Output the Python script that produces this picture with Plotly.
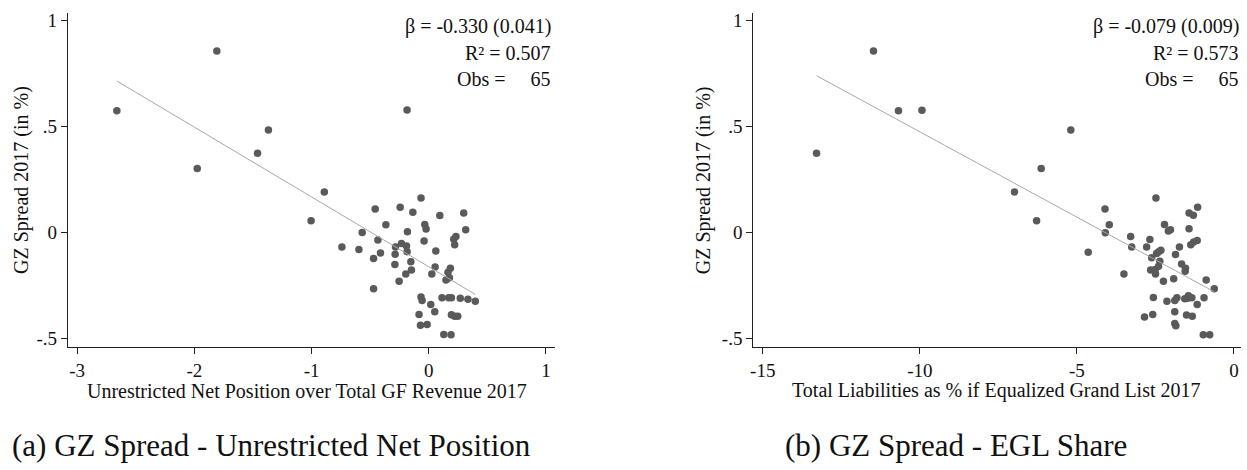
import numpy as np
import plotly.graph_objects as go

# ---------------- data ----------------
# Panel (a): Unrestricted Net Position over Total GF Revenue 2017 vs GZ spread
unp_x = [-1.808, -2.661, -0.185, -1.368, -1.461, -1.975, -0.891, -0.066,
         -1.004, -0.457, -0.244, -0.136, 0.094, 0.298, 0.315, -0.366,
         -0.568, -0.182, -0.034, -0.023, -0.434, -0.040, 0.213, 0.232,
         0.221, -0.741, -0.596, -0.412, -0.471, -0.284, -0.233, -0.190,
         -0.185, -0.287, 0.060, -0.153, -0.289, -0.148, -0.196, -0.253,
         0.054, 0.026, 0.184, 0.164, 0.176, 0.147, -0.471, -0.066,
         -0.057, 0.113, 0.170, 0.193, 0.269, 0.334, 0.397, 0.017,
         0.051, -0.083, 0.193, 0.221, 0.247, -0.071, -0.014, 0.128, 0.190]
unp_y = [0.857, 0.575, 0.578, 0.484, 0.374, 0.302, 0.191, 0.163,
         0.055, 0.111, 0.119, 0.095, 0.080, 0.092, 0.013, 0.036,
         0.000, 0.003, 0.037, 0.016, -0.036, -0.041, -0.033, -0.019,
         -0.058, -0.069, -0.081, -0.097, -0.123, -0.069, -0.052, -0.064,
         -0.091, -0.103, -0.088, -0.139, -0.152, -0.178, -0.197, -0.231,
         -0.164, -0.197, -0.170, -0.188, -0.214, -0.225, -0.267, -0.306,
         -0.322, -0.309, -0.309, -0.309, -0.311, -0.316, -0.325, -0.341,
         -0.375, -0.388, -0.389, -0.397, -0.397, -0.439, -0.435, -0.483, -0.484]

# Panel (b): Total Liabilities as % of Equalized Grand List 2017 vs GZ spread
egl_x = [-11.476, -13.289, -10.680, -9.932, -5.194, -6.136, -6.986, -2.483,
         -6.282, -4.105, -3.969, -4.095, -4.639, -3.289, -3.255, -3.503,
         -2.779, -2.677, -2.619, -2.463, -2.327, -2.395, -2.361, -2.653,
         -2.507, -2.497, -2.245, -2.211, -2.088, -2.020, -1.735, -1.861,
         -1.667, -1.544, -1.554, -1.918, -1.429, -1.429, -1.293, -1.156,
         -1.374, -1.282, -1.170, -0.884, -0.626, -2.565, -2.133, -1.884,
         -1.816, -1.565, -1.476, -1.340, -1.170, -0.952, -2.847, -2.585,
         -1.884, -1.510, -1.327, -1.884, -1.850, -0.976, -0.772, -2.400, -1.450]
egl_y = [0.857, 0.374, 0.575, 0.577, 0.484, 0.302, 0.191, 0.163,
         0.055, 0.111, 0.036, -0.002, -0.094, -0.019, -0.069, -0.197,
         -0.069, -0.034, -0.120, -0.100, -0.084, -0.092, -0.136, -0.178,
         -0.175, -0.197, -0.231, 0.037, 0.006, 0.013, -0.069, -0.105,
         -0.150, -0.170, -0.184, -0.219, 0.017, 0.092, 0.081, 0.119,
         -0.058, -0.045, -0.038, -0.225, -0.267, -0.308, -0.325, -0.322,
         -0.309, -0.314, -0.311, -0.309, -0.341, -0.309, -0.400, -0.388,
         -0.375, -0.391, -0.397, -0.431, -0.441, -0.484, -0.484, -0.160, -0.300]

stats_a = ["β = -0.330 (0.041)", "R² = 0.507", "Obs =\u00a0\u00a0\u00a0\u00a0\u00a065"]
stats_b = ["β = -0.079 (0.009)", "R² = 0.573", "Obs =\u00a0\u00a0\u00a0\u00a0\u00a065"]

xticks_a = [-3, -2, -1, 0, 1]
xticks_b = [-15, -10, -5, 0]
yticks = [-0.5, 0, 0.5, 1]
yticklabels = ["-.5", "0", ".5", "1"]

xtitle_a = "Unrestricted Net Position over Total GF Revenue 2017"
xtitle_b = "Total Liabilities as % if Equalized Grand List 2017"
ytitle = "GZ Spread 2017 (in %)"
caption_a = "(a) GZ Spread - Unrestricted Net Position"
caption_b = "(b) GZ Spread - EGL Share"

# ---------------- layout helpers ----------------
W, H = 1247, 470
def fx(px):
    return px / W
def fy(py):
    return 1 - py / H

MARKER = "#5a5a5a"
LINE = "#a8a8a8"
SERIF = "Liberation Serif"

def fit_line(x, y):
    x = np.asarray(x); y = np.asarray(y)
    b, a = np.polyfit(x, y, 1)
    xs = np.array([x.min(), x.max()])
    return xs, a + b * xs

fig = go.Figure()

for (xd, yd, xa, ya) in [(unp_x, unp_y, "x", "y"), (egl_x, egl_y, "x2", "y2")]:
    fig.add_trace(go.Scatter(x=xd, y=yd, mode="markers", xaxis=xa, yaxis=ya,
                             marker=dict(size=7.5, color=MARKER, line=dict(width=0)),
                             showlegend=False, hoverinfo="skip"))
    lx, ly = fit_line(xd, yd)
    fig.add_trace(go.Scatter(x=lx, y=ly, mode="lines", xaxis=xa, yaxis=ya,
                             line=dict(color=LINE, width=1),
                             showlegend=False, hoverinfo="skip"))

ydom = [fy(348), fy(11)]
common_axis = dict(showline=True, linecolor="#222", linewidth=1, ticks="outside",
                   ticklen=6, tickwidth=1, tickcolor="#222", showgrid=False,
                   zeroline=False, tickfont=dict(family=SERIF, size=19, color="#111"))

fig.update_layout(
    width=W, height=H, margin=dict(l=0, r=0, t=0, b=0),
    paper_bgcolor="white", plot_bgcolor="white",
    xaxis=dict(domain=[fx(65), fx(553)], range=[-3.079, 1.074], anchor="y",
               tickvals=xticks_a, ticktext=[str(v) for v in xticks_a], **common_axis),
    yaxis=dict(domain=ydom, range=[-0.542, 1.0375], anchor="x",
               tickvals=yticks, ticktext=yticklabels, **common_axis),
    xaxis2=dict(domain=[fx(752), fx(1241)], range=[-15.305, 0.225], anchor="y2",
                tickvals=xticks_b, ticktext=[str(v) for v in xticks_b], **common_axis),
    yaxis2=dict(domain=ydom, range=[-0.542, 1.0375], anchor="x2",
                tickvals=yticks, ticktext=yticklabels, **common_axis),
)

ann = []
def text(x, y, s, size=20, xanchor="center", angle=0, family=SERIF):
    ann.append(dict(x=fx(x), y=fy(y), xref="paper", yref="paper", text=s,
                    showarrow=False, xanchor=xanchor, yanchor="middle",
                    textangle=angle, font=dict(family=family, size=size, color="#111")))

# axis titles
text(305, 392, xtitle_a)
text(996, 392, xtitle_b)
text(19, 179.5, ytitle, angle=-90)
text(703, 179.5, ytitle, angle=-90)
# stats
for i, yy in enumerate([25, 51, 78]):
    text(551, yy, stats_a[i], xanchor="right")
    text(1241, yy, stats_b[i], xanchor="right")
# captions
text(269, 447, caption_a, size=31)
text(955, 447, caption_b, size=31)

fig.update_layout(annotations=ann)
fig.write_html("out.html")
